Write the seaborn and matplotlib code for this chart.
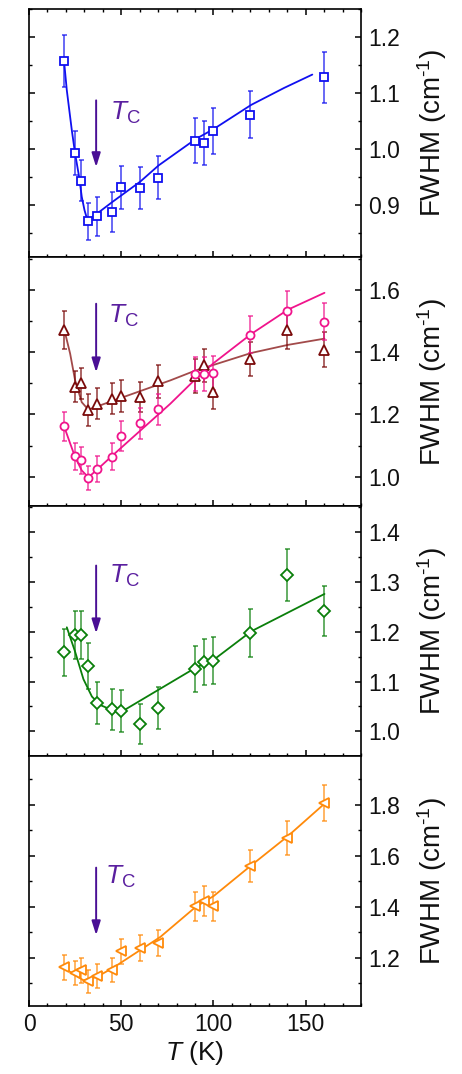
import numpy as np
import pandas as pd
import matplotlib
matplotlib.use("Agg")
import matplotlib.pyplot as plt
from matplotlib.ticker import MultipleLocator
import seaborn as sns

# ---------------- data ----------------
T1 = [19, 25, 28, 32, 37, 45, 50, 60, 70, 90, 95, 100, 120, 160]
W1 = [1.157, 0.993, 0.944, 0.871, 0.880, 0.888, 0.932, 0.931, 0.949, 1.015, 1.011, 1.033, 1.061, 1.128]
E1 = [0.047, 0.039, 0.037, 0.033, 0.035, 0.035, 0.038, 0.037, 0.038, 0.040, 0.040, 0.041, 0.042, 0.045]
F1T = [19, 20.5, 23.2, 25, 27.2, 28.6, 30.1, 31.7, 36.9, 45.3, 60.3, 70.3, 90.4, 100.2, 120.5, 138.2, 153.6]
F1W = [1.157, 1.105, 1.034, 0.992, 0.950, 0.915, 0.891, 0.873, 0.885, 0.906, 0.942, 0.971, 1.018, 1.036, 1.079, 1.109, 1.133]

T2 = [19, 25, 28, 32, 37, 45, 50, 60, 70, 90, 95, 100, 120, 140, 160]
W2p = [1.162, 1.065, 1.052, 0.995, 1.024, 1.064, 1.132, 1.171, 1.216, 1.330, 1.330, 1.332, 1.456, 1.531, 1.497]
E2p = [0.046, 0.042, 0.043, 0.039, 0.041, 0.043, 0.048, 0.049, 0.049, 0.054, 0.054, 0.054, 0.060, 0.064, 0.059]
W2t = [1.471, 1.289, 1.300, 1.214, 1.234, 1.250, 1.259, 1.255, 1.306, 1.323, 1.357, 1.271, 1.378, 1.472, 1.407]
E2t = [0.061, 0.050, 0.050, 0.050, 0.050, 0.050, 0.051, 0.048, 0.054, 0.055, 0.054, 0.054, 0.055, 0.063, 0.056]
F2pT = [19, 22.3, 25, 28.6, 32.2, 36.8, 44.9, 76.6, 90.4, 100.2, 120.5, 140.4, 160.2]
F2pW = [1.162, 1.107, 1.063, 1.020, 0.998, 1.022, 1.066, 1.234, 1.314, 1.365, 1.458, 1.536, 1.590]
F2tT = [19, 22.3, 25, 28.6, 32.2, 38.6, 76.6, 90.4, 100.2, 120.5, 140.4, 160.2]
F2tW = [1.475, 1.395, 1.309, 1.239, 1.215, 1.229, 1.309, 1.341, 1.359, 1.397, 1.423, 1.443]

T3 = [19, 25, 28, 32, 37, 45, 50, 60, 70, 90, 95, 100, 120, 140, 160]
W3 = [1.159, 1.193, 1.194, 1.131, 1.057, 1.044, 1.041, 1.015, 1.047, 1.126, 1.139, 1.142, 1.198, 1.314, 1.241]
E3 = [0.047, 0.048, 0.048, 0.046, 0.042, 0.042, 0.042, 0.040, 0.042, 0.046, 0.046, 0.047, 0.048, 0.053, 0.050]
F3T = [20.5, 25, 29.5, 34.1, 38.6, 44.9, 50.4, 90.4, 100.2, 120.5, 160.2]
F3W = [1.209, 1.160, 1.105, 1.070, 1.053, 1.043, 1.040, 1.128, 1.144, 1.201, 1.276]

T4 = [19, 25, 28, 32, 37, 45, 50, 60, 70, 90, 95, 100, 120, 140, 160]
W4 = [1.162, 1.140, 1.150, 1.107, 1.127, 1.152, 1.224, 1.239, 1.258, 1.401, 1.422, 1.401, 1.561, 1.671, 1.807]
E4 = [0.048, 0.046, 0.048, 0.045, 0.046, 0.048, 0.050, 0.051, 0.052, 0.056, 0.059, 0.057, 0.063, 0.067, 0.072]
F4T = [18, 25, 29.5, 36.8, 45.8, 71.2, 90.4, 100.2, 120.5, 140.4, 160.2]
F4W = [1.165, 1.131, 1.111, 1.124, 1.161, 1.281, 1.399, 1.442, 1.562, 1.677, 1.804]

TC = 36.4
ARROWS = [(1.087, 0.968), (1.555, 1.335), (1.333, 1.197), (1.553, 1.288)]
TC_TEXT = [(44.0, 1.053), (43.1, 1.494), (43.6, 1.298), (41.3, 1.490)]

YLIMS = [(0.807, 1.25), (0.905, 1.704), (0.95, 1.452), (1.01, 1.99)]
YMAJ = [0.1, 0.2, 0.1, 0.2]
YMIN = [0.05, 0.1, 0.05, 0.1]
XTICKS = [0, 50, 100, 150]

# ---------------- style ----------------
sns.set_theme(style="ticks")
plt.rcParams['font.family'] = ['Liberation Sans', 'DejaVu Sans']
plt.rcParams['mathtext.fontset'] = 'custom'
plt.rcParams['mathtext.rm'] = 'Liberation Sans'
plt.rcParams['mathtext.it'] = 'Liberation Sans:italic'
plt.rcParams['mathtext.bf'] = 'Liberation Sans:bold'

fig = plt.figure(figsize=(4.62, 10.74), dpi=100)
L, R = 29 / 462, 361 / 462
edges = [9, 257.3, 506.3, 756.3, 1006]
axes = []
for i in range(4):
    top = 1 - edges[i] / 1074
    bot = 1 - edges[i + 1] / 1074
    ax = fig.add_axes([L, bot, R - L, top - bot])
    axes.append(ax)

PURPLE = '#4a0f95'
PURPLE_T = '#5a1f9f'


def series(ax, T, W, E, F_T, F_W, color, marker, ms, lc=None, ecolor=None):
    df = pd.DataFrame({'T': F_T, 'W': F_W})
    sns.lineplot(data=df, x='T', y='W', ax=ax, color=lc or color, lw=1.3,
                 sort=False, estimator=None)
    ax.errorbar(T, W, yerr=E, fmt='none', ecolor=ecolor or color, elinewidth=1.1,
                capsize=1.8, capthick=1.1, alpha=0.8, zorder=3)
    ax.plot(T, W, ls='none', marker=marker, ms=ms, mfc='white', mec=color,
            mew=1.3, zorder=4)


series(axes[0], T1, W1, E1, F1T, F1W, '#1010f0', 's', 5.8)
series(axes[1], T2, W2t, E2t, F2tT, F2tW, '#7a0a0a', '^', 6.8, lc='#a24a4a')
series(axes[1], T2, W2p, E2p, F2pT, F2pW, '#f0148c', 'o', 5.8)
series(axes[2], T3, W3, E3, F3T, F3W, '#0a7f0a', 'D', 5.8)
series(axes[3], T4, W4, E4, F4T, F4W, '#ff8a0a', '<', 6.8)

for i, ax in enumerate(axes):
    ax.set_xlim(0, 180)
    ax.set_ylim(*YLIMS[i])
    ax.xaxis.set_major_locator(MultipleLocator(50))
    ax.xaxis.set_minor_locator(MultipleLocator(10))
    ax.yaxis.set_major_locator(MultipleLocator(YMAJ[i]))
    ax.yaxis.set_minor_locator(MultipleLocator(YMIN[i]))
    ax.yaxis.set_major_formatter(matplotlib.ticker.FormatStrFormatter('%.1f'))
    ax.tick_params(which='both', direction='in', color='black',
                   left=True, right=True, bottom=True, top=(i == 0),
                   labelleft=False, labelright=True, labelbottom=(i == 3),
                   labelsize=16.5, pad=5)
    ax.tick_params(which='major', length=4.5, width=1.1)
    ax.tick_params(which='minor', length=2.5, width=1.0)
    for s in ax.spines.values():
        s.set_visible(True)
        s.set_linewidth(1.2)
        s.set_color('black')
    ax.set_xlabel('')
    ax.yaxis.set_label_position('right')
    ax.set_ylabel(r'FWHM (cm$^{\text{-}1}$)', fontsize=20, labelpad=11,
                  rotation=90, color='#111111')
    a0, a1 = ARROWS[i]
    ax.annotate('', xy=(TC, a1), xytext=(TC, a0),
                arrowprops=dict(arrowstyle='-|>,head_length=0.7,head_width=0.22',
                                color=PURPLE, lw=1.4, shrinkA=0, shrinkB=0))
    tx, ty = TC_TEXT[i]
    ax.text(tx, ty, r'$T_\mathrm{C}$', color=PURPLE_T, fontsize=19,
            ha='left', va='baseline')
    for lab in ax.get_yticklabels():
        lab.set_color('#111111')

axes[3].set_xticks(XTICKS)
axes[3].set_xlabel('$T$ (K)', fontsize=19, labelpad=2, color='#111111')
for lab in axes[3].get_xticklabels():
    lab.set_color('#111111')

fig.savefig('out.png', dpi=100)
